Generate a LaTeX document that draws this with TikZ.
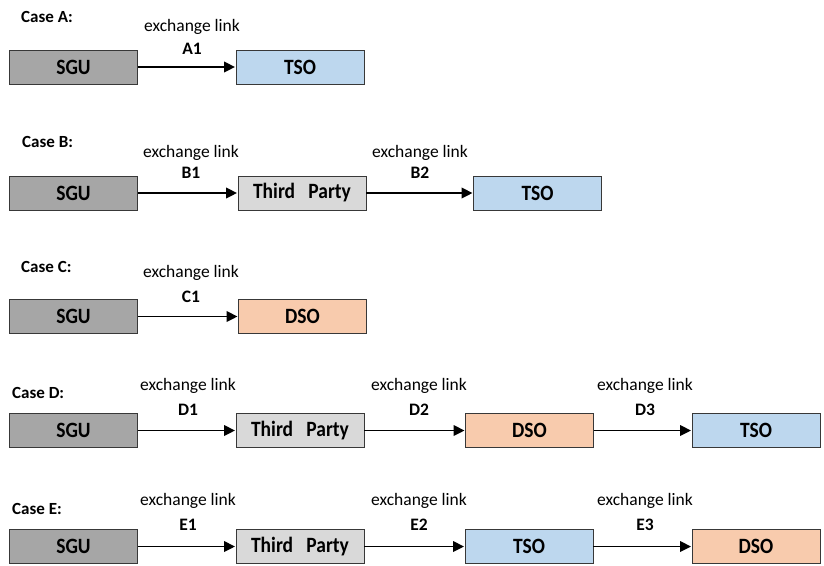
\documentclass[tikz,border=0pt]{standalone}
\usepackage{fontspec}
\usepackage{graphicx}
\setmainfont{Carlito}
\usetikzlibrary{arrows.meta}
\definecolor{sgucol}{HTML}{A6A6A6}
\definecolor{tpcol}{HTML}{D9D9D9}
\definecolor{tsocol}{HTML}{BDD7EE}
\definecolor{dsocol}{HTML}{F8CBAD}
\definecolor{edgecol}{HTML}{383838}
\newcommand{\boxtxt}[1]{\scalebox{1}[1.12]{#1}}
\tikzset{
  box/.style={draw=edgecol, line width=0.9pt, minimum width=128pt, minimum height=34pt,
    inner sep=0pt, font=\fontsize{19.5}{20}\selectfont\bfseries},
  sgu/.style={box, fill=sgucol},
  tp/.style={box, fill=tpcol},
  tso/.style={box, fill=tsocol},
  dso/.style={box, fill=dsocol},
  link/.style={line width=1.8pt, -{Triangle[length=11pt,width=10.5pt]}, shorten >=0.5pt},
  caselab/.style={anchor=base west, inner sep=0pt, font=\fontsize{17}{18}\selectfont\bfseries},
  exlab/.style={anchor=base, inner sep=0pt, font=\fontsize{17.5}{18}\selectfont},
  idlab/.style={anchor=base, inner sep=0pt, font=\fontsize{17.5}{18}\selectfont\bfseries},
}
\begin{document}
\begin{tikzpicture}[x=1pt,y=-1pt]
\useasboundingbox (0,0) rectangle (824,565);
% Case A
\node[caselab] (ca) at (21,22) {Case A:};
\node[sgu] (a1) at (73.5,67) {\boxtxt{SGU}};
\node[tso] (a2) at (300,67) {\boxtxt{TSO}};
\draw[link] (a1) -- (a2);
\node[exlab] (ea1) at (192,31) {exchange link};
\node[idlab] (ia1) at (192,54) {A1};
% Case B
\node[caselab] (cb) at (22,147) {Case B:};
\node[sgu] (b1) at (73.5,193) {\boxtxt{SGU}};
\node[tp] (b2) at (302,193) {\boxtxt{Third\ \ \ Party}};
\node[tso] (b3) at (537.5,193) {\boxtxt{TSO}};
\draw[link] (b1) -- (b2);
\draw[link] (b2) -- (b3);
\node[exlab] (eb1) at (191,157) {exchange link};
\node[idlab] (ib1) at (191,178) {B1};
\node[exlab] (eb2) at (420,157) {exchange link};
\node[idlab] (ib2) at (420,178) {B2};
% Case C
\node[caselab] (cc) at (21,272) {Case C:};
\node[sgu] (c1) at (73.5,316.5) {\boxtxt{SGU}};
\node[dso] (c2) at (302.5,316.5) {\boxtxt{DSO}};
\draw[link] (c1) -- (c2);
\node[exlab] (ec1) at (191,277) {exchange link};
\node[idlab] (ic1) at (191,302) {C1};
% Case D
\node[caselab] (cd) at (12,398) {Case D:};
\node[sgu] (d1) at (73.5,430.5) {\boxtxt{SGU}};
\node[tp] (d2) at (300,430.5) {\boxtxt{Third\ \ \ Party}};
\node[dso] (d3) at (529.5,430.5) {\boxtxt{DSO}};
\node[tso] (d4) at (756,430.5) {\boxtxt{TSO}};
\draw[link] (d1) -- (d2);
\draw[link] (d2) -- (d3);
\draw[link] (d3) -- (d4);
\node[exlab] (ed1) at (188,390) {exchange link};
\node[idlab] (id1) at (188,415) {D1};
\node[exlab] (ed2) at (419,390) {exchange link};
\node[idlab] (id2) at (419,415) {D2};
\node[exlab] (ed3) at (645,390) {exchange link};
\node[idlab] (id3) at (645,415) {D3};
% Case E
\node[caselab] (ce) at (12,514) {Case E:};
\node[sgu] (e1) at (73.5,546.5) {\boxtxt{SGU}};
\node[tp] (e2) at (300,546.5) {\boxtxt{Third\ \ \ Party}};
\node[tso] (e3) at (529,546.5) {\boxtxt{TSO}};
\node[dso] (e4) at (756,546.5) {\boxtxt{DSO}};
\draw[link] (e1) -- (e2);
\draw[link] (e2) -- (e3);
\draw[link] (e3) -- (e4);
\node[exlab] (ee1) at (188,505) {exchange link};
\node[idlab] (ie1) at (188,530) {E1};
\node[exlab] (ee2) at (419,505) {exchange link};
\node[idlab] (ie2) at (419,530) {E2};
\node[exlab] (ee3) at (645,505) {exchange link};
\node[idlab] (ie3) at (645,530) {E3};
\end{tikzpicture}
\end{document}
